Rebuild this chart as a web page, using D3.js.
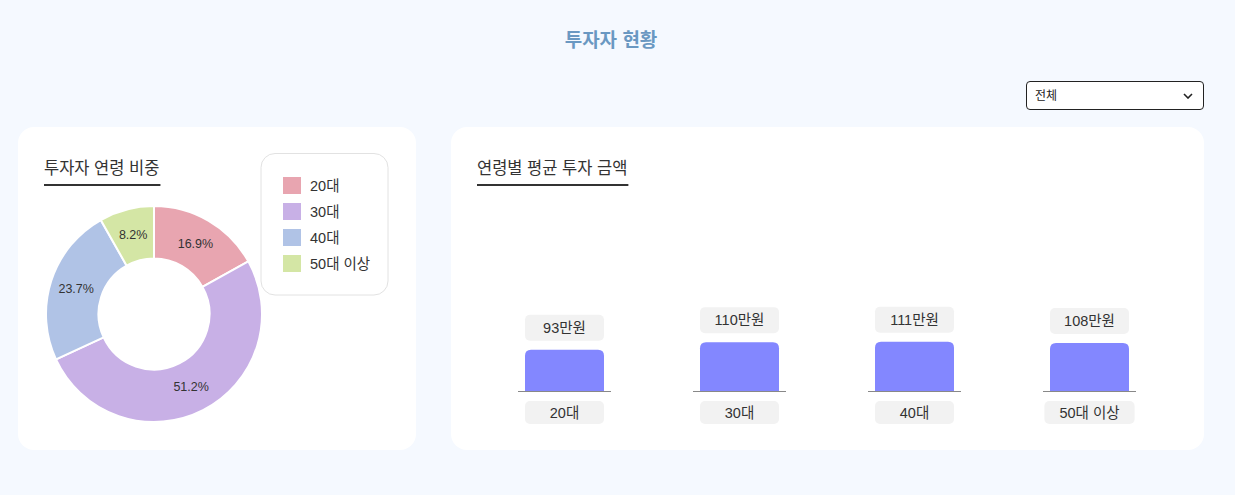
<!DOCTYPE html>
<html lang="ko">
<head>
<meta charset="utf-8">
<script src="https://cdn.jsdelivr.net/npm/d3@7"></script>
<style>
  html, body { margin: 0; padding: 0; background: #f5f9ff; }
  body { width: 1235px; height: 495px; position: relative; overflow: hidden;
         font-family: "Liberation Sans", "Noto Sans CJK KR", sans-serif; }
  svg { position: absolute; left: 0; top: 0; }
  select { position: absolute; left: 1026px; top: 81px; width: 178px; height: 29px;
           border: 1px solid #222; border-radius: 4px; font-size: 12px;
           -webkit-appearance: none; appearance: none;
           background: #fff url("data:image/svg+xml;utf8,<svg xmlns='http://www.w3.org/2000/svg' width='10' height='6'><path d='M1 1 L5 5 L9 1' fill='none' stroke='%23222' stroke-width='1.6'/></svg>") no-repeat right 10px center;
           font-family: "Liberation Sans", "Noto Sans CJK KR", sans-serif; color: #222; padding: 0 8px; }
</style>
</head>
<body>
<svg id="chart" width="1235" height="495"></svg>
<select><option>전체</option></select>
<script>
const pageTitle = "투자자 현황";
const pieTitle = "투자자 연령 비중";
const barTitle = "연령별 평균 투자 금액";
const ageGroups = ["20대", "30대", "40대", "50대 이상"];
const ageShares = [16.9, 51.2, 23.7, 8.2];
const avgAmounts = [93, 110, 111, 108];
const amountUnit = "만원";
const groupColors = ["#e8a5b0", "#c8b0e6", "#b0c3e6", "#d4e6a5"];

const svg = d3.select("#chart");
const font = '"Liberation Sans", "Noto Sans CJK KR", sans-serif';

svg.append("text").attr("x", 611).attr("y", 47).attr("text-anchor", "middle")
  .attr("font-family", font).attr("font-size", 19).attr("font-weight", 700)
  .attr("fill", "#6a98c2").text(pageTitle);

// cards
svg.append("rect").attr("x", 18).attr("y", 127).attr("width", 398).attr("height", 323)
  .attr("rx", 16).attr("fill", "#fff");
svg.append("rect").attr("x", 451).attr("y", 127).attr("width", 753).attr("height", 323)
  .attr("rx", 16).attr("fill", "#fff");

function cardTitle(x, text) {
  const t = svg.append("text").attr("x", x).attr("y", 174)
    .attr("font-family", font).attr("font-size", 16.5).attr("fill", "#333").text(text);
  const w = t.node().getComputedTextLength();
  svg.append("rect").attr("x", x).attr("y", 184).attr("width", w + 1).attr("height", 2).attr("fill", "#333");
}
cardTitle(44, pieTitle);
cardTitle(477, barTitle);

// donut
const pieData = ageGroups.map((g, i) => ({ group: g, value: ageShares[i], color: groupColors[i] }));
const pie = d3.pie().sort(null).value(d => d.value);
const arc = d3.arc().innerRadius(55.5).outerRadius(108);
const donut = svg.append("g").attr("transform", "translate(154,314)");
const arcs = pie(pieData);
donut.selectAll("path").data(arcs).join("path")
  .attr("d", arc).attr("fill", d => d.data.color)
  .attr("stroke", "#fff").attr("stroke-width", 2);
donut.selectAll("text").data(arcs).join("text")
  .attr("transform", d => `translate(${arc.centroid(d)})`)
  .attr("text-anchor", "middle").attr("dy", "0.35em")
  .attr("font-family", font).attr("font-size", 12.5).attr("fill", "#333")
  .text(d => d.data.value.toFixed(1) + "%");

// legend
svg.append("rect").attr("x", 261).attr("y", 153.5).attr("width", 127).attr("height", 141.5)
  .attr("rx", 14).attr("fill", "#fff").attr("stroke", "#e2e2e2");
const legend = svg.append("g");
const lg = legend.selectAll("g").data(pieData).join("g")
  .attr("transform", (d, i) => `translate(283,${177 + i * 26})`);
lg.append("rect").attr("width", 18).attr("height", 17).attr("fill", d => d.color);
lg.append("text").attr("x", 27).attr("y", 9).attr("dy", "0.36em")
  .attr("font-family", font).attr("font-size", 14.5).attr("fill", "#333").text(d => d.group);

// bars
const x = d3.scaleBand().domain(ageGroups).range([477, 1177]).padding(0);
const y = d3.scaleLinear().domain([0, 250]).range([391, 280]);
const barW = 79;
const barData = ageGroups.map((g, i) => ({ group: g, value: avgAmounts[i] }));
const bars = svg.append("g");
const bg = bars.selectAll("g").data(barData).join("g")
  .attr("transform", d => `translate(${x(d.group) + x.bandwidth() / 2},0)`);

function topRounded(w, h, r) {
  const x0 = -w / 2, x1 = w / 2;
  return `M${x0},0 V${-h + r} Q${x0},${-h} ${x0 + r},${-h} H${x1 - r} Q${x1},${-h} ${x1},${-h + r} V0 Z`;
}
bg.append("path")
  .attr("transform", `translate(0,${y(0)})`)
  .attr("d", d => topRounded(barW, y(0) - y(d.value), 6))
  .attr("fill", "#8387ff");
bg.append("line").attr("x1", -46.5).attr("x2", 46.5)
  .attr("y1", y(0) + 0.5).attr("y2", y(0) + 0.5).attr("stroke", "#888").attr("stroke-width", 1);
// value labels
bg.append("rect").attr("x", -barW / 2).attr("y", d => y(d.value) - 35)
  .attr("width", barW).attr("height", 26).attr("rx", 5).attr("fill", "#f2f2f2");
bg.append("text").attr("y", d => y(d.value) - 22).attr("dy", "0.36em").attr("text-anchor", "middle")
  .attr("font-family", font).attr("font-size", 14.5).attr("fill", "#333")
  .text(d => d.value + amountUnit);
// category labels
const catBox = bg.append("rect").attr("y", 401).attr("height", 23).attr("rx", 5).attr("fill", "#f2f2f2");
const catText = bg.append("text").attr("y", 412.5).attr("dy", "0.36em").attr("text-anchor", "middle")
  .attr("font-family", font).attr("font-size", 14.5).attr("fill", "#333").text(d => d.group);
catText.each(function (d) {
  d.boxW = Math.max(barW, this.getComputedTextLength() + 30);
});
catBox.attr("x", d => -d.boxW / 2).attr("width", d => d.boxW);
</script>
</body>
</html>
